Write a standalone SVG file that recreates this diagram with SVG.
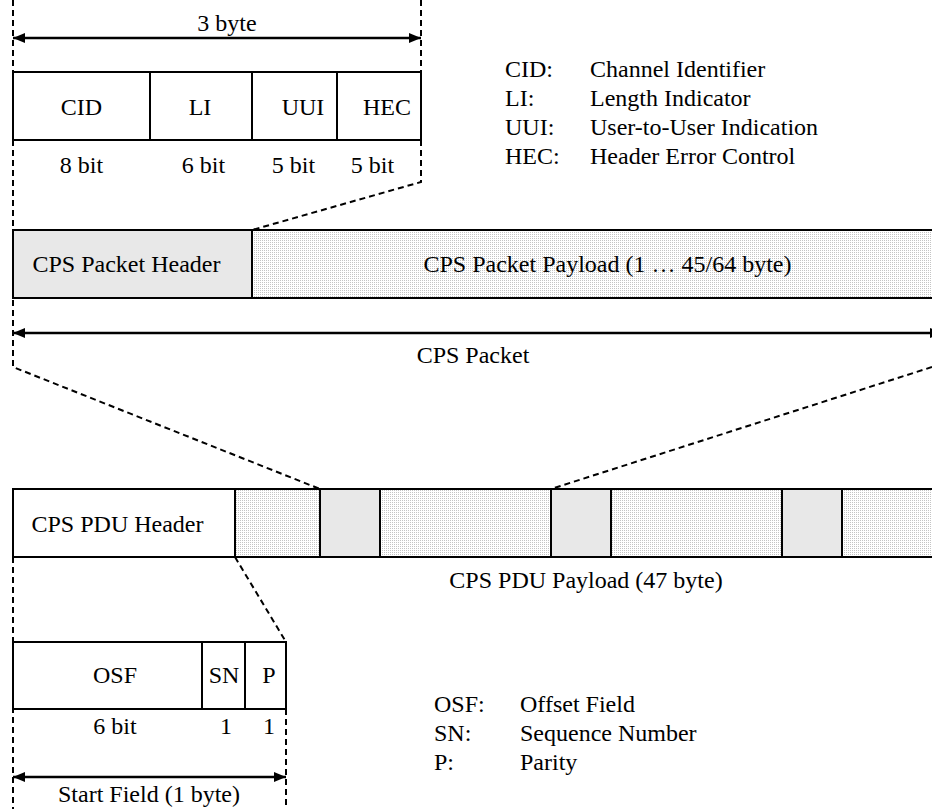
<svg xmlns="http://www.w3.org/2000/svg" width="932" height="809" viewBox="0 0 932 809">
<style>
text{font-family:"Liberation Serif","Times New Roman",serif;font-size:24px;fill:#000}
.c{text-anchor:middle}
.box{fill:#fff;stroke:#000;stroke-width:2}
.hdr{fill:#e8e8e8;stroke:#000;stroke-width:2}
.pay{fill:url(#stip);stroke:#000;stroke-width:2}
.dash{fill:none;stroke:#000;stroke-width:2;stroke-dasharray:6 4}
.arr{stroke:#000;stroke-width:2.5;marker-start:url(#ah);marker-end:url(#ah)}
.ln{stroke:#000;stroke-width:2}
</style>
<defs>
<pattern id="stip" width="2" height="2" patternUnits="userSpaceOnUse">
<rect width="2" height="2" fill="#ffffff"/>
<rect width="1" height="1" fill="#c4c4c4"/>
</pattern>
<marker id="ah" viewBox="0 0 12 10" refX="12" refY="5" markerWidth="12" markerHeight="10" markerUnits="userSpaceOnUse" orient="auto-start-reverse">
<path d="M0,0 L12,5 L0,10 Z" fill="#000"/>
</marker>
</defs>
<rect width="932" height="809" fill="#fff"/>

<g id="connectors">
<path class="dash" d="M13,0 V367 L320,489"/>
<path class="dash" d="M421,0 V182 L252,230"/>
<path class="dash" d="M932,367 L551,489"/>
<path class="dash" d="M13,557 V809"/>
<path class="dash" d="M235,557 L286,642"/>
<path class="dash" d="M286,709 V809"/>
<line class="arr" x1="13" y1="38" x2="421" y2="38"/>
<line class="arr" x1="13" y1="333" x2="942" y2="333"/>
<line class="arr" x1="13" y1="777" x2="286" y2="777"/>
</g>

<g id="dim-3byte"><text class="c" x="227" y="31">3 byte</text></g>

<g id="aal2-header">
<rect class="box" x="13" y="72" width="137" height="68"/>
<rect class="box" x="150" y="72" width="102" height="68"/>
<rect class="box" x="252" y="72" width="85" height="68"/>
<rect class="box" x="337" y="72" width="84" height="68"/>
<text class="c" x="81.5" y="115">CID</text>
<text class="c" x="200" y="115">LI</text>
<text class="c" x="303" y="115">UUI</text>
<text class="c" x="387" y="115">HEC</text>
<text class="c" x="81.5" y="173">8 bit</text>
<text class="c" x="203.5" y="173">6 bit</text>
<text class="c" x="293.5" y="173">5 bit</text>
<text class="c" x="372.5" y="173">5 bit</text>
</g>

<g id="legend-top">
<text x="505" y="77">CID:</text><text x="590" y="77">Channel Identifier</text>
<text x="505" y="106">LI:</text><text x="590" y="106">Length Indicator</text>
<text x="505" y="135">UUI:</text><text x="590" y="135">User-to-User Indication</text>
<text x="505" y="164">HEC:</text><text x="590" y="164">Header Error Control</text>
</g>

<g id="cps-packet">
<rect class="pay" x="252" y="230" width="690" height="68"/>
<rect class="hdr" x="13" y="230" width="239" height="68"/>
<text class="c" x="126.5" y="272">CPS Packet Header</text>
<text class="c" x="607.5" y="272">CPS Packet Payload (1 … 45/64 byte)</text>
<text class="c" x="473" y="363">CPS Packet</text>
</g>

<g id="cps-pdu">
<rect class="pay" x="235" y="489" width="707" height="68"/>
<rect class="box" x="13" y="489" width="222" height="68"/>
<rect class="hdr" x="320" y="489" width="60" height="68"/>
<rect class="hdr" x="551" y="489" width="60" height="68"/>
<rect class="hdr" x="782" y="489" width="60" height="68"/>
<text class="c" x="117.5" y="532">CPS PDU Header</text>
<text class="c" x="586" y="588">CPS PDU Payload (47 byte)</text>
</g>

<g id="start-field">
<rect class="box" x="13" y="642" width="189" height="67"/>
<rect class="box" x="202" y="642" width="43" height="67"/>
<rect class="box" x="245" y="642" width="41" height="67"/>
<text class="c" x="115" y="683">OSF</text>
<text class="c" x="224" y="683">SN</text>
<text class="c" x="269" y="683">P</text>
<text class="c" x="115" y="734">6 bit</text>
<text class="c" x="226" y="734">1</text>
<text class="c" x="269" y="734">1</text>
<text class="c" x="149" y="802">Start Field (1 byte)</text>
</g>

<g id="legend-bottom">
<text x="434" y="712">OSF:</text><text x="520" y="712">Offset Field</text>
<text x="434" y="741">SN:</text><text x="520" y="741">Sequence Number</text>
<text x="434" y="770">P:</text><text x="520" y="770">Parity</text>
</g>
</svg>
